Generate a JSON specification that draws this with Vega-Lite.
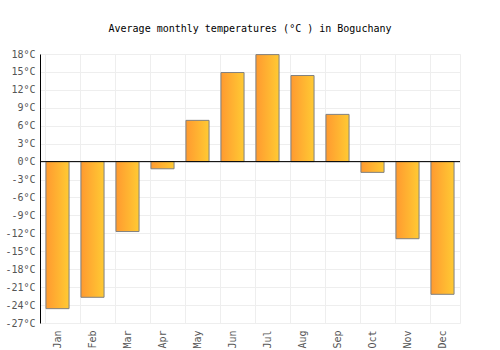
{
  "$schema": "https://vega.github.io/schema/vega-lite/v6.json",
  "width": 420,
  "height": 269,
  "autosize": {"type": "none"},
  "padding": {"left": 40, "top": 54, "right": 40, "bottom": 27},
  "background": "#ffffff",
  "title": {
    "text": "Average monthly temperatures (°C ) in Boguchany",
    "font": "DejaVu Sans Mono",
    "fontSize": 10,
    "fontWeight": "normal",
    "color": "#000000",
    "anchor": "middle",
    "offset": 15
  },
  "config": {
    "view": {"stroke": "#eeeeee"},
    "axis": {
      "labelFont": "DejaVu Sans Mono",
      "labelFontSize": 10,
      "labelColor": "#555555",
      "gridColor": "#eeeeee",
      "ticks": false,
      "labelOverlap": false,
      "labelFlush": false
    }
  },
  "data": {
    "values": [
      {"month": "Jan", "temp": -24.6},
      {"month": "Feb", "temp": -22.7},
      {"month": "Mar", "temp": -11.7},
      {"month": "Apr", "temp": -1.2},
      {"month": "May", "temp": 6.9},
      {"month": "Jun", "temp": 14.9},
      {"month": "Jul", "temp": 17.9},
      {"month": "Aug", "temp": 14.4},
      {"month": "Sep", "temp": 7.9},
      {"month": "Oct", "temp": -1.8},
      {"month": "Nov", "temp": -12.9},
      {"month": "Dec", "temp": -22.2}
    ]
  },
  "layer": [
    {
      "mark": {
        "type": "bar",
        "stroke": "#808080",
        "strokeWidth": 1,
        "color": {
          "gradient": "linear",
          "x1": 0, "x2": 1, "y1": 0, "y2": 0,
          "stops": [
            {"offset": 0, "color": "#ff9a30"},
            {"offset": 1, "color": "#ffca33"}
          ]
        }
      },
      "encoding": {
        "x": {
          "field": "month",
          "type": "nominal",
          "sort": null,
          "title": null,
          "scale": {"paddingInner": 0.34, "paddingOuter": 0.17},
          "axis": {
            "labelAngle": -90,
            "labelAlign": "right",
            "labelBaseline": "middle",
            "labelPadding": 7,
            "domain": false,
            "grid": true,
            "bandPosition": 0
          }
        },
        "y": {
          "field": "temp",
          "type": "quantitative",
          "title": null,
          "scale": {"domain": [-27, 18], "nice": false, "zero": false},
          "axis": {
            "values": [-27, -24, -21, -18, -15, -12, -9, -6, -3, 0, 3, 6, 9, 12, 15, 18],
            "labelExpr": "datum.value + '°C'",
            "domain": true,
            "domainColor": "#000000",
            "labelPadding": 5,
            "grid": true
          }
        }
      }
    },
    {
      "data": {"values": [{"v": 0}]},
      "mark": {"type": "rule", "color": "#000000", "strokeWidth": 1},
      "encoding": {
        "y": {
          "field": "v",
          "type": "quantitative",
          "title": null,
          "axis": {
            "values": [-27, -24, -21, -18, -15, -12, -9, -6, -3, 0, 3, 6, 9, 12, 15, 18],
            "labelExpr": "datum.value + '°C'",
            "domain": true,
            "domainColor": "#000000",
            "labelPadding": 5,
            "grid": true
          }
        }
      }
    }
  ]
}
